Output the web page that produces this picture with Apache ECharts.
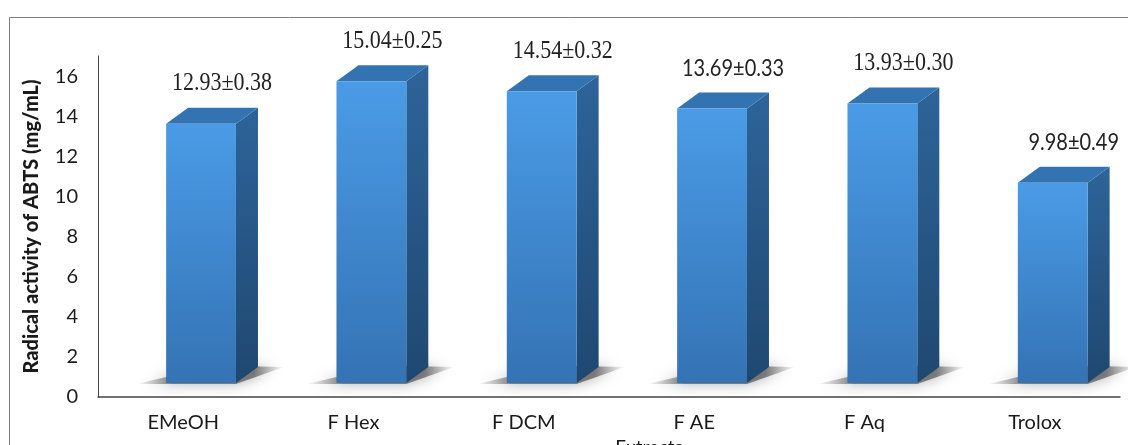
<!DOCTYPE html>
<html>
<head>
<meta charset="utf-8">
<script src="https://cdn.jsdelivr.net/npm/echarts@6/dist/echarts.min.js"></script>
<style>
  html, body { margin: 0; padding: 0; background: #fff; }
  #chart { width: 1128px; height: 445px; }
</style>
</head>
<body>
<div id="chart"></div>
<script>
// data
const categories = ['EMeOH', 'F Hex', 'F DCM', 'F AE', 'F Aq', 'Trolox'];
const values = [12.93, 15.04, 14.54, 13.69, 13.93, 9.98];
const errors = ['0.38', '0.25', '0.32', '0.33', '0.30', '0.49'];
const yTicks = [0, 2, 4, 6, 8, 10, 12, 14, 16];

// label font per bar (the figure mixes serif and sans labels)
const labelSerif = [true, true, true, false, true, false];

const LIFT = 14;   // floor offset of the 3d box above the axis line
const DX = 22, DY = 16; // depth of the box

function renderBox(params, api) {
    const i = api.value(0);
    const v = api.value(1);
    const base = api.coord([i, 0]);
    const top = api.coord([i, v]);
    const band = api.size([1, 0])[0];
    const w = band * 0.41;
    const left = base[0] - band * 0.1;
    const right = left + w;
    const y0 = base[1] - LIFT;
    const y1 = top[1] - LIFT;
    const serif = labelSerif[i];
    return {
        type: 'group',
        children: [
            { // floor shadow
                type: 'polygon',
                shape: { points: [[left - 30, y0 + 1], [right, y0 + 1], [right + DX + 26, y0 - DY], [left + DX, y0 - DY - 2], [left, y0 - 6]] },
                style: {
                    fill: new echarts.graphic.LinearGradient(0, 0, 1, 0, [
                        { offset: 0, color: 'rgba(60,60,60,0)' },
                        { offset: 0.25, color: 'rgba(60,60,60,0.6)' },
                        { offset: 0.8, color: 'rgba(60,60,60,0.6)' },
                        { offset: 1, color: 'rgba(60,60,60,0)' }
                    ]),
                    shadowBlur: 14, shadowColor: 'rgba(0,0,0,0.5)'
                }
            },
            { // side
                type: 'polygon',
                shape: { points: [[right, y1], [right + DX, y1 - DY], [right + DX, y0 - DY], [right, y0]] },
                style: {
                    fill: new echarts.graphic.LinearGradient(0, 0, 0, 1, [
                        { offset: 0, color: '#2e649a' },
                        { offset: 1, color: '#1f4870' }
                    ])
                }
            },
            { // top
                type: 'polygon',
                shape: { points: [[left, y1], [left + DX, y1 - DY], [right + DX, y1 - DY], [right, y1]] },
                style: { fill: '#3473b2' }
            },
            { // front
                type: 'rect',
                shape: { x: left, y: y1, width: w, height: y0 - y1 },
                style: {
                    fill: new echarts.graphic.LinearGradient(0, 0, 0, 1, [
                        { offset: 0, color: '#4a9be6' },
                        { offset: 1, color: '#3473b4' }
                    ])
                }
            },
            {
                type: 'text',
                x: left + w / 2 + DX / 2 + 10,
                y: y1 - DY - 24,
                scaleY: 1.15,
                style: {
                    text: v.toFixed(2) + '±' + errors[i],
                    fill: '#222',
                    font: serif ? '22px "Liberation Serif"' : '20px Lato',
                    align: 'center',
                    verticalAlign: 'middle'
                }
            }
        ]
    };
}

const chart = echarts.init(document.getElementById('chart'));
chart.setOption({
    backgroundColor: '#fff',
    animation: false,
    graphic: [{
        type: 'rect',
        left: 7, top: 15,
        shape: { width: 1200, height: 500 },
        style: { fill: 'none', stroke: '#808080', lineWidth: 1 },
        z: -1
    }],
    grid: { left: 98, right: 8, top: 56, bottom: 48, outerBoundsMode: 'none', containLabel: false },
    xAxis: {
        type: 'category',
        data: categories,
        name: 'Extracts',
        nameLocation: 'middle',
        nameGap: 40,
        nameTextStyle: { fontFamily: 'Lato', fontSize: 19, color: '#1a1a1a', padding: [0, 0, 0, 80] },
        axisLine: { lineStyle: { color: '#444', width: 1.5 } },
        axisTick: { show: false },
        axisLabel: { fontFamily: 'Lato', fontSize: 20, color: '#1a1a1a', margin: 16 }
    },
    yAxis: {
        type: 'value',
        min: 0, max: 17, interval: 2,
        name: 'Radical activity of ABTS (mg/mL)',
        nameLocation: 'middle',
        nameGap: 56,
        nameTextStyle: { fontFamily: 'Lato', fontSize: 20, fontWeight: 900, color: '#1a1a1a' },
        axisLine: { show: true, lineStyle: { color: '#444', width: 1 } },
        axisTick: { show: false },
        splitLine: { show: false },
        axisLabel: {
            fontFamily: 'Lato', fontSize: 20, color: '#1a1a1a', margin: 20,
            formatter: function (val) { return yTicks.indexOf(val) >= 0 ? String(val) : ''; }
        }
    },
    series: [{
        type: 'custom',
        renderItem: renderBox,
        encode: { x: 0, y: 1 },
        data: values.map(function (v, i) { return [i, v]; })
    }]
});
</script>
</body>
</html>
